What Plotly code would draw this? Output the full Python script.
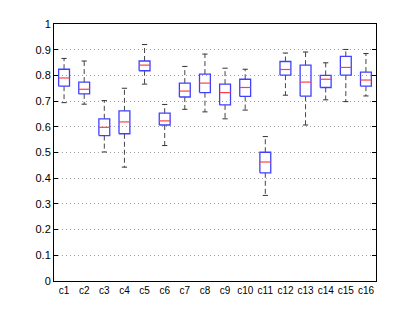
import plotly.graph_objects as go

categories = ["c1","c2","c3","c4","c5","c6","c7","c8","c9","c10","c11","c12","c13","c14","c15","c16"]
lower_whisker = [0.694,0.688,0.502,0.443,0.766,0.527,0.668,0.658,0.631,0.665,0.333,0.723,0.607,0.705,0.698,0.720]
q1 =            [0.758,0.728,0.566,0.573,0.818,0.607,0.716,0.733,0.685,0.718,0.421,0.801,0.719,0.753,0.801,0.758]
median =        [0.790,0.746,0.598,0.619,0.840,0.623,0.739,0.770,0.733,0.753,0.463,0.823,0.774,0.785,0.831,0.782]
q3 =            [0.824,0.774,0.631,0.662,0.856,0.653,0.770,0.805,0.766,0.785,0.501,0.854,0.840,0.800,0.874,0.813]
upper_whisker = [0.866,0.856,0.702,0.750,0.920,0.687,0.835,0.883,0.828,0.824,0.562,0.887,0.891,0.849,0.901,0.885]
y_tick_vals = [0,0.1,0.2,0.3,0.4,0.5,0.6,0.7,0.8,0.9,1]
y_tick_labels = ["0","0.1","0.2","0.3","0.4","0.5","0.6","0.7","0.8","0.9","1"]

BW = 0.27   # half box width
CW = 0.13   # half cap width
pos = list(range(1, len(categories) + 1))

bx, by, mx, my, wx, wy, cx, cy = [], [], [], [], [], [], [], []
for i, p in enumerate(pos):
    bx += [p-BW, p+BW, p+BW, p-BW, p-BW, None]
    by += [q1[i], q1[i], q3[i], q3[i], q1[i], None]
    mx += [p-BW, p+BW, None]
    my += [median[i], median[i], None]
    wx += [p, p, None, p, p, None]
    wy += [q3[i], upper_whisker[i], None, q1[i], lower_whisker[i], None]
    cx += [p-CW, p+CW, None, p-CW, p+CW, None]
    cy += [upper_whisker[i], upper_whisker[i], None, lower_whisker[i], lower_whisker[i], None]

fig = go.Figure()
fig.add_trace(go.Scatter(x=wx, y=wy, mode="lines", line=dict(color="#444444", width=1, dash="5px,3px"), hoverinfo="skip"))
fig.add_trace(go.Scatter(x=cx, y=cy, mode="lines", line=dict(color="#333333", width=1), hoverinfo="skip"))
fig.add_trace(go.Scatter(x=bx, y=by, mode="lines", line=dict(color="#4040ff", width=1.3), hoverinfo="skip"))
fig.add_trace(go.Scatter(x=mx, y=my, mode="lines", line=dict(color="#ff4040", width=1.2), hoverinfo="skip"))

fig.update_layout(
    width=415, height=328,
    margin=dict(l=54, r=39, t=24, b=47),
    paper_bgcolor="white", plot_bgcolor="white",
    showlegend=False,
    font=dict(family="Liberation Sans, Arial, sans-serif", size=10, color="black"),
)
fig.update_xaxes(
    range=[0.5, len(categories) + 0.5],
    tickvals=pos, ticktext=categories,
    showgrid=False, zeroline=False,
    showline=True, linecolor="black", linewidth=1, mirror=True,
    ticks="", tickfont=dict(size=10),
)
fig.update_yaxes(
    range=[0, 1],
    tickvals=y_tick_vals, ticktext=y_tick_labels,
    showgrid=True, gridcolor="#a0a0a0", griddash="1px,3px", gridwidth=1,
    zeroline=False,
    showline=True, linecolor="black", linewidth=1, mirror="allticks",
    ticks="inside", ticklen=4, tickcolor="black",
    tickfont=dict(size=11),
)
fig.write_html(
    "out.html",
    config={"displayModeBar": False},
    post_script="document.body.style.margin='0px';document.body.style.overflow='hidden';",
)
